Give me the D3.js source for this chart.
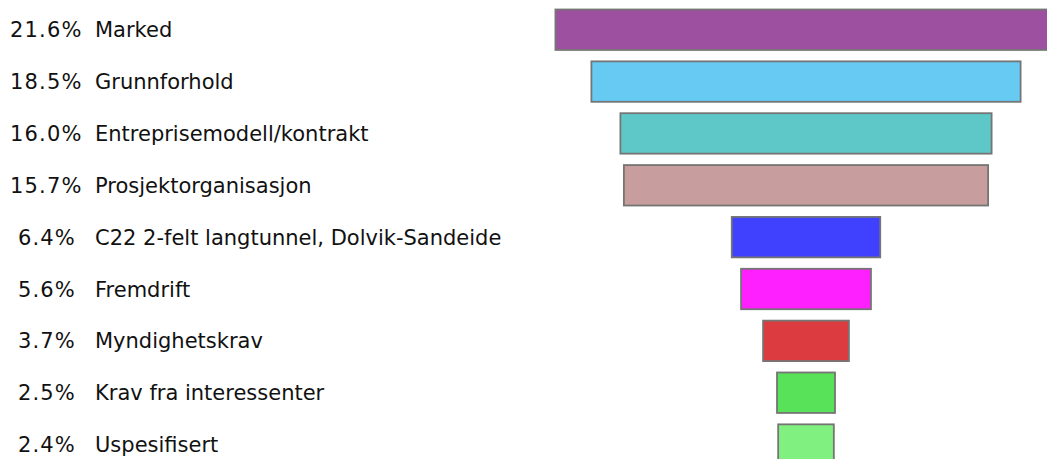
<!DOCTYPE html>
<html>
<head>
<meta charset="utf-8">
<script src="https://cdn.jsdelivr.net/npm/d3@7"></script>
<style>
  html, body { margin: 0; padding: 0; background: #ffffff; }
  svg { display: block; }
  text { font-family: "DejaVu Sans", Verdana, sans-serif; font-size: 21px; fill: #111; white-space: pre; }
  text.pct { letter-spacing: 1.2px; }
</style>
</head>
<body>
<svg id="chart" width="1047" height="459"></svg>
<script>
// Share of risk items per category (percent)
const categories = [
  "Marked",
  "Grunnforhold",
  "Entreprisemodell/kontrakt",
  "Prosjektorganisasjon",
  "C22 2-felt langtunnel, Dolvik-Sandeide",
  "Fremdrift",
  "Myndighetskrav",
  "Krav fra interessenter",
  "Uspesifisert"
];
const shares = [21.6, 18.5, 16.0, 15.7, 6.4, 5.6, 3.7, 2.5, 2.4];
const colors = [
  "#9e50a0", "#66caf2", "#5ec8c8", "#c89d9d", "#4040ff",
  "#ff20ff", "#dc3c40", "#58e25a", "#80f080"
];

const rows = categories.map((c, i) => ({ name: c, value: shares[i], color: colors[i] }));

const svg = d3.select("#chart");
const centerX = 806;

const y = d3.scaleBand()
  .domain(categories)
  .range([3.8, 470.5])
  .paddingInner(0.22)
  .paddingOuter(0.11);

// bar width grows from the centre line outwards
const w = d3.scaleLinear().domain([0, 20]).range([0, 464]);

// pad single-digit shares with a leading space
const fmtPct = d3.format("4.1f");

// centred funnel bars
svg.append("g")
  .selectAll("rect")
  .data(rows)
  .join("rect")
  .attr("x", d => centerX - w(d.value) / 2)
  .attr("y", d => y(d.name))
  .attr("width", d => w(d.value))
  .attr("height", y.bandwidth())
  .attr("fill", d => d.color)
  .attr("stroke", "#757575")
  .attr("stroke-width", 1.8);

// percentage and category labels on the left
const labels = svg.append("g")
  .selectAll("g")
  .data(rows)
  .join("g")
  .attr("transform", d => `translate(0,${y(d.name) + y.bandwidth() / 2 + 7.5})`);

labels.append("text")
  .attr("class", "pct")
  .attr("x", 10)
  .text(d => fmtPct(d.value) + "%");

labels.append("text")
  .attr("x", 95)
  .text(d => d.name);
</script>
</body>
</html>
